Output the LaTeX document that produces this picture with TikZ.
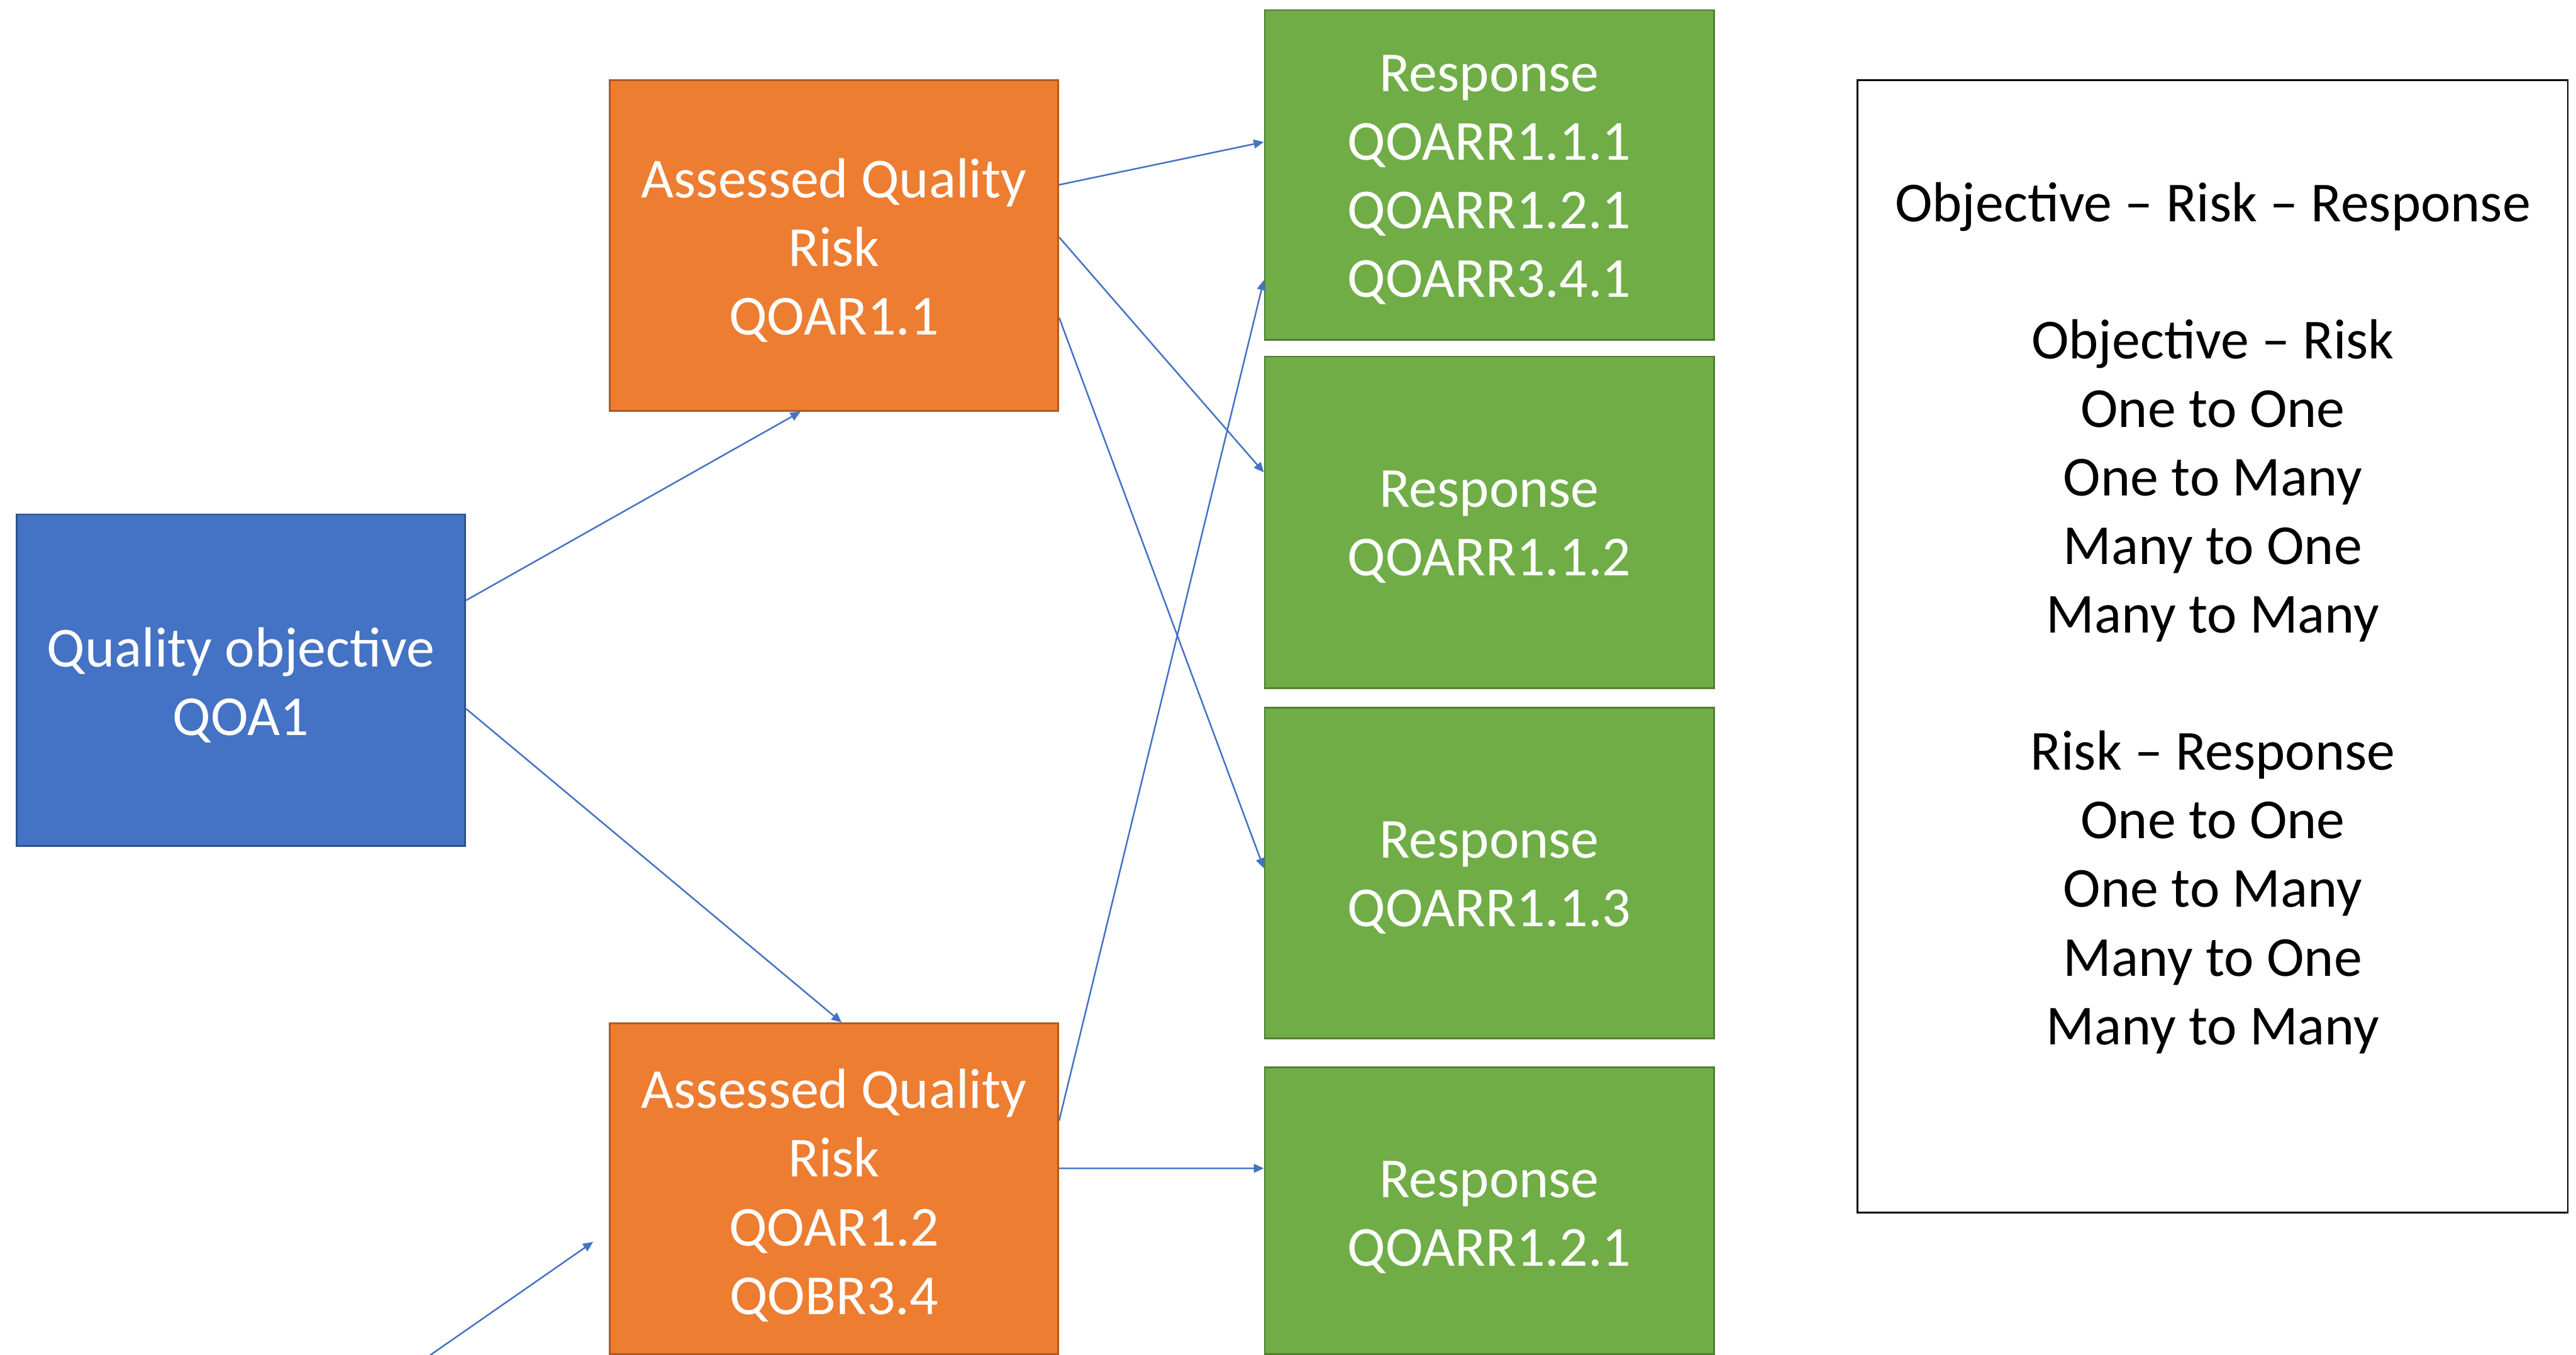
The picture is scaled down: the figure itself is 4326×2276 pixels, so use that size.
\documentclass[tikz,border=0pt]{standalone}
\usepackage{fontspec}
\setmainfont{Carlito}
\usetikzlibrary{arrows.meta,calc}
\definecolor{qblue}{HTML}{4472C4}
\definecolor{qblueline}{HTML}{2F528F}
\definecolor{qorange}{HTML}{ED7D31}
\definecolor{qorangeline}{HTML}{AE5A21}
\definecolor{qgreen}{HTML}{70AD47}
\definecolor{qgreenline}{HTML}{507E32}
\begin{document}
\begin{tikzpicture}[x=0.01cm,y=-0.01cm,
  box/.style={rectangle, line width=0.8pt, inner sep=0pt},
  objbox/.style={box, fill=qblue, draw=qblueline, minimum width=7.53cm},
  riskbox/.style={box, fill=qorange, draw=qorangeline, minimum width=7.53cm},
  respbox/.style={box, fill=qgreen, draw=qgreenline, minimum width=7.54cm},
  boxtext/.style={text=white, align=center, inner sep=0pt,
    font=\fontsize{27}{32.75}\selectfont},
  legendbox/.style={rectangle, draw=black, line width=0.8pt, fill=white, inner sep=0pt},
  legendtext/.style={align=center, text=black, inner sep=0pt,
    font=\fontsize{27}{32.75}\selectfont},
  conn/.style={draw=qblue, line width=0.75pt, -{Triangle[length=4.8pt,width=4.2pt]}},
  ]
\useasboundingbox (0,0) rectangle (4326,2276);
\fill[white] (0,0) rectangle (4326,2276);

% boxes
\node[objbox, minimum height=5.57cm] (qo) at (404.5,1142.5) {};
\node[riskbox, minimum height=5.55cm] (r1) at (1400.5,412.5) {};
\node[riskbox, minimum height=5.55cm] (r2) at (1400.5,1996.5) {};
\node[respbox, minimum height=5.54cm] (g1) at (2501,294) {};
\node[respbox, minimum height=5.57cm] (g2) at (2501,877.5) {};
\node[respbox, minimum height=5.55cm] (g3) at (2501,1466.5) {};
\node[respbox, minimum height=4.81cm] (g4) at (2501,2033.5) {};

% box texts
\node[boxtext] (qo-t) at (404.5,1150.5) {Quality objective\\QOA1};
\node[boxtext] (r1-t) at (1400.5,420.5) {Assessed Quality\\Risk\\QOAR1.1};
\node[boxtext] (r2-t) at (1400.5,2008) {Assessed Quality\\Risk\\QOAR1.2\\QOBR3.4};
\node[boxtext] (g1-t) at (2501,302) {Response\\QOARR1.1.1\\QOARR1.2.1\\QOARR3.4.1};
\node[boxtext] (g2-t) at (2501,885.5) {Response\\QOARR1.1.2};
\node[boxtext] (g3-t) at (2501,1474.5) {Response\\QOARR1.1.3};
\node[boxtext] (g4-t) at (2501,2045) {Response\\QOARR1.2.1};

% legend
\node[legendbox, minimum width=11.92cm, minimum height=19.01cm] (lg) at (3716,1085.5) {};
\node[legendtext] (lgt) at (3716,1038) {Objective -- Risk -- Response\\ ~\\
Objective -- Risk\\One to One\\One to Many\\Many to One\\Many to Many\\ ~\\
Risk -- Response\\One to One\\One to Many\\Many to One\\Many to Many};

% connectors
\draw[conn] ($(qo.north east)+(0,146)$) -- ($(r1.south west)+(322,0)$);
\draw[conn] ($(qo.north east)+(0,328)$) -- ($(r2.north west)+(391,0)$);
\draw[conn] ($(r1.north east)+(0,177)$) -- ($(g1.north west)+(0,223)$);
\draw[conn] ($(r1.north east)+(0,265)$) -- ($(g2.north west)+(0,196)$);
\draw[conn] ($(r1.north east)+(0,400)$) -- ($(g3.north west)+(0,271)$);
\draw[conn] ($(r2.north east)+(0,165)$) -- ($(g1.north west)+(0,455)$);
\draw[conn] ($(r2.north east)+(0,245)$) -- ($(g4.north west)+(0,171)$);
\coordinate (lfree) at (717,2280);
\coordinate (ltip) at (996,2086);
\draw[conn] (lfree) -- (ltip);
\end{tikzpicture}
\end{document}
